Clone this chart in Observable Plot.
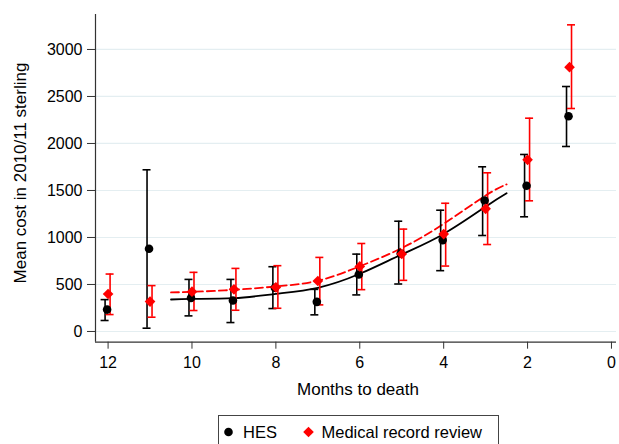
<!DOCTYPE html>
<html>
<head>
<meta charset="utf-8">
<script src="https://cdn.jsdelivr.net/npm/d3@7"></script>
<script src="https://cdn.jsdelivr.net/npm/@observablehq/plot@0.6"></script>
<style>
  html, body { margin: 0; padding: 0; background: #fff; }
  body { font-family: "Liberation Sans", Arial, sans-serif; position: relative; width: 619px; height: 444px; overflow: hidden; }
  #chart svg { display: block; }
  #legend { position: absolute; left: 218px; top: 415px; }
</style>
</head>
<body>
<div id="chart"></div>
<div id="legend"></div>
<script>
// Months to death (categories)
const months = [12, 11, 10, 9, 8, 7, 6, 5, 4, 3, 2, 1];

// HES: mean and 95% CI
const hesMean = [233, 880, 357, 329, 465, 315, 606, 830, 972, 1394, 1550, 2290];
const hesLo   = [117,  35, 166,  95, 244, 177, 389, 505, 647, 1021, 1220, 1968];
const hesHi   = [339, 1720, 554, 554, 689, 448, 823, 1173, 1290, 1752, 1883, 2606];

// Medical record review: mean and 95% CI
const mrrMean = [399, 318, 424, 448, 470, 537, 692, 824, 1036, 1305, 1826, 2812];
const mrrLo   = [180, 152, 223, 226, 247, 283, 445, 544, 696, 925, 1390, 2372];
const mrrHi   = [611, 488, 629, 671, 700, 788, 936, 1089, 1364, 1688, 2269, 3262];

// Fitted curves
const fitMonths = [10.5, 10, 9, 8, 7, 6, 5, 4, 3, 2.5];
const hesFit = [340, 347, 354, 400, 465, 614, 820, 1038, 1328, 1470];
const mrrFit = [415, 422, 443, 479, 540, 693, 887, 1145, 1446, 1565];

// Axis ticks
const xTicks = [12, 10, 8, 6, 4, 2, 0];
const yTicks = [0, 500, 1000, 1500, 2000, 2500, 3000];
const xDomain = [12.3, -0.12];
const yDomain = [-114, 3372];

const legendItems = ["HES", "Medical record review"];
const colors = ["#000000", "#ff0000"];

const hes = months.map((m, i) => ({m, mean: hesMean[i], lo: hesLo[i], hi: hesHi[i]}));
const mrr = months.map((m, i) => ({m, mean: mrrMean[i], lo: mrrLo[i], hi: mrrHi[i]}));
const hesCurve = fitMonths.map((m, i) => ({m, v: hesFit[i]}));
const mrrCurve = fitMonths.map((m, i) => ({m, v: mrrFit[i]}));

const capOpts = (data, color, dx, key) => Plot.ruleY(data, {
  x1: "m", x2: "m", y: key, stroke: color, strokeWidth: 1.6,
  insetLeft: -4, insetRight: -4, dx
});

const plot = Plot.plot({
  width: 619,
  height: 415,
  marginLeft: 95,
  marginRight: 3,
  marginTop: 14,
  marginBottom: 73.3,
  style: { fontFamily: "'Liberation Sans', Arial, sans-serif", fontSize: "16px", color: "#000", background: "#fff" },
  x: { domain: xDomain },
  y: { domain: yDomain },
  marks: [
    Plot.gridY(yTicks, { stroke: "#e4eef1", strokeOpacity: 1, strokeWidth: 1.2 }),
    Plot.ruleX([xDomain[0]], { stroke: "#333", strokeWidth: 1.2 }),
    Plot.ruleY([yDomain[0]], { stroke: "#333", strokeWidth: 1.2 }),
    Plot.axisX({ ticks: xTicks, tickSize: 7, tickPadding: 7, label: null, stroke: "#333", tickFormat: d => String(d) }),
    Plot.axisY({ ticks: yTicks, tickSize: 8, tickPadding: 5, label: null, stroke: "#333", tickFormat: d => String(d) }),
    // fitted curves
    Plot.line(hesCurve, { x: "m", y: "v", stroke: colors[0], strokeWidth: 1.8, curve: "natural" }),
    Plot.line(mrrCurve, { x: "m", y: "v", stroke: colors[1], strokeWidth: 1.8, curve: "natural", strokeDasharray: "8,4" }),
    // HES error bars
    Plot.ruleX(hes, { x: "m", y1: "lo", y2: "hi", stroke: colors[0], strokeWidth: 1.6, dx: -3 }),
    capOpts(hes, colors[0], -3, "lo"),
    capOpts(hes, colors[0], -3, "hi"),
    // MRR error bars
    Plot.ruleX(mrr, { x: "m", y1: "lo", y2: "hi", stroke: colors[1], strokeWidth: 1.6, dx: 2 }),
    capOpts(mrr, colors[1], 2, "lo"),
    capOpts(mrr, colors[1], 2, "hi"),
    // markers
    Plot.dot(hes, { x: "m", y: "mean", r: 4.3, fill: colors[0], stroke: "none", dx: -1 }),
    Plot.dot(mrr, { x: "m", y: "mean", r: 4.8, symbol: "diamond2", fill: colors[1], stroke: "none" })
  ]
});

document.getElementById("chart").append(plot);

const svg = d3.select(plot);
svg.append("text")
  .attr("transform", "translate(26,173) rotate(-90)")
  .attr("text-anchor", "middle")
  .attr("font-size", 17)
  .attr("fill", "#000")
  .text("Mean cost in 2010/11 sterling");
svg.append("text")
  .attr("x", 358)
  .attr("y", 395)
  .attr("text-anchor", "middle")
  .attr("font-size", 17)
  .attr("fill", "#000")
  .text("Months to death");

// Legend
const lg = d3.select("#legend").append("svg")
  .attr("width", 282).attr("height", 29)
  .style("display", "block")
  .style("font-family", "'Liberation Sans', Arial, sans-serif");
lg.append("rect").attr("x", 0.5).attr("y", 0.5).attr("width", 280).attr("height", 40)
  .attr("fill", "#fff").attr("stroke", "#444").attr("stroke-width", 1);
lg.append("circle").attr("cx", 10.5).attr("cy", 17).attr("r", 4.3).attr("fill", colors[0]);
lg.append("text").attr("x", 25).attr("y", 22.5).attr("font-size", 16.5).text(legendItems[0]);
lg.append("path").attr("d", d3.symbol(d3.symbolDiamond2, 4.8 * 4.8 * Math.PI)()).attr("transform", "translate(90.5,17)").attr("fill", colors[1]);
lg.append("text").attr("x", 103.5).attr("y", 22.5).attr("font-size", 16.5).text(legendItems[1]);
</script>
</body>
</html>
